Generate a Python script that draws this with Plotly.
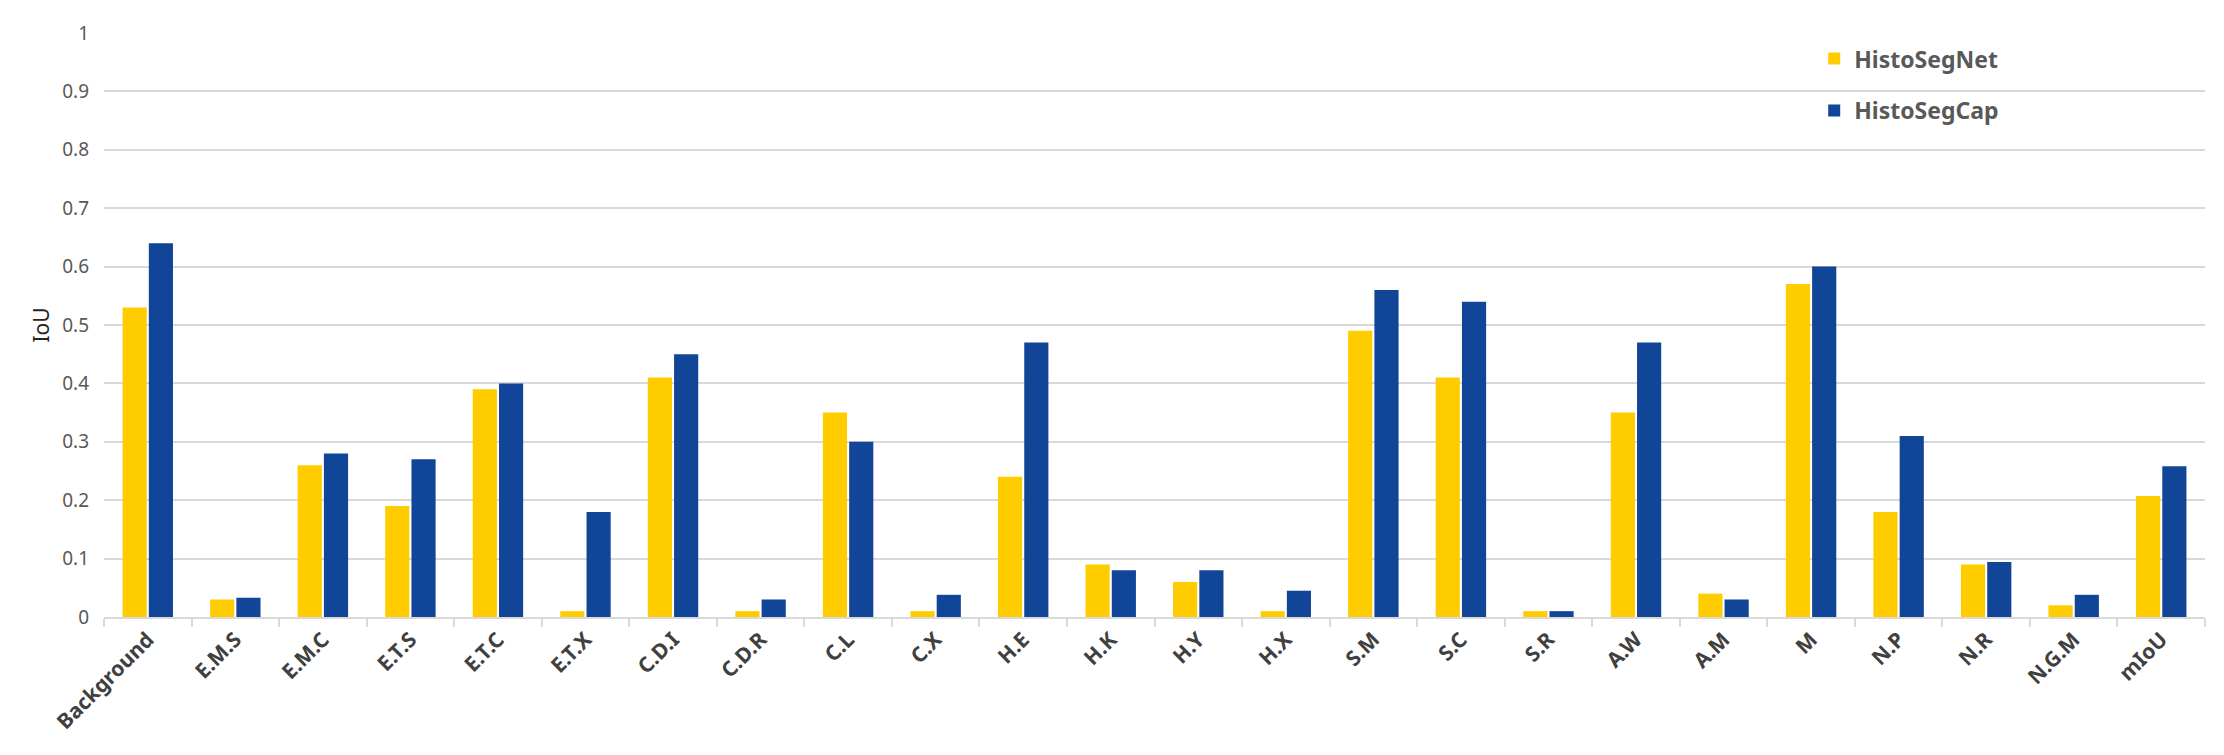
import plotly.graph_objects as go

# IoU per tissue class
categories = ["Background", "E.M.S", "E.M.C", "E.T.S", "E.T.C", "E.T.X", "C.D.I", "C.D.R",
              "C.L", "C.X", "H.E", "H.K", "H.Y", "H.X", "S.M", "S.C", "S.R", "A.W", "A.M",
              "M", "N.P", "N.R", "N.G.M", "mIoU"]
histosegnet = [0.53, 0.03, 0.26, 0.19, 0.39, 0.01, 0.41, 0.01, 0.35, 0.01, 0.24, 0.09, 0.06,
               0.01, 0.49, 0.41, 0.01, 0.35, 0.04, 0.57, 0.18, 0.09, 0.02, 0.207]
histosegcap = [0.64, 0.033, 0.28, 0.27, 0.40, 0.18, 0.45, 0.03, 0.30, 0.038, 0.47, 0.08, 0.08,
               0.045, 0.56, 0.54, 0.01, 0.47, 0.03, 0.60, 0.31, 0.094, 0.038, 0.258]
y_ticks = [0, 0.1, 0.2, 0.3, 0.4, 0.5, 0.6, 0.7, 0.8, 0.9, 1]
y_ticklabels = ["0", "0.1", "0.2", "0.3", "0.4", "0.5", "0.6", "0.7", "0.8", "0.9", "1"]

font = "Noto Sans"

fig = go.Figure()
fig.add_trace(go.Bar(x=categories, y=histosegnet, name="HistoSegNet",
                     marker=dict(color="#FFCC00", line=dict(width=0)), legendgroup="a"))
fig.add_trace(go.Bar(x=categories, y=histosegcap, name="HistoSegCap",
                     marker=dict(color="#114598", line=dict(width=0)), legendgroup="b"))

# page body adds an 8px offset, margins compensate for it
fig.update_layout(
    width=2224, height=755,
    barmode="group", bargap=0.4, bargroupgap=0.08,
    plot_bgcolor="white", paper_bgcolor="white",
    margin=dict(l=96, r=27, t=15, b=146),
    font=dict(family=font, color="#595959"),
    legend=dict(x=0.814, y=0.993, xanchor="left", yanchor="top",
                bgcolor="rgba(0,0,0,0)", traceorder="grouped", tracegroupgap=19,
                font=dict(size=23, color="#595959", weight="bold"), itemwidth=30),
)

fig.update_yaxes(
    range=[0, 1], tickvals=y_ticks, ticktext=y_ticklabels,
    showgrid=True, gridcolor="#D9D9D9", gridwidth=2,
    zeroline=False, showline=False,
    tickfont=dict(size=19, color="#595959"), ticklabelstandoff=14,
    title=dict(text="IoU", font=dict(size=21, color="#262626"), standoff=6),
)

fig.update_xaxes(
    tickangle=-45, tickson="boundaries", ticks="outside", ticklen=8,
    tickcolor="#D9D9D9", tickwidth=2,
    showline=True, linecolor="#D9D9D9", linewidth=2,
    tickfont=dict(size=21, color="#404040", weight="bold"),
    range=[-0.5, len(categories) - 0.5],
)

fig.write_html("out.html")
